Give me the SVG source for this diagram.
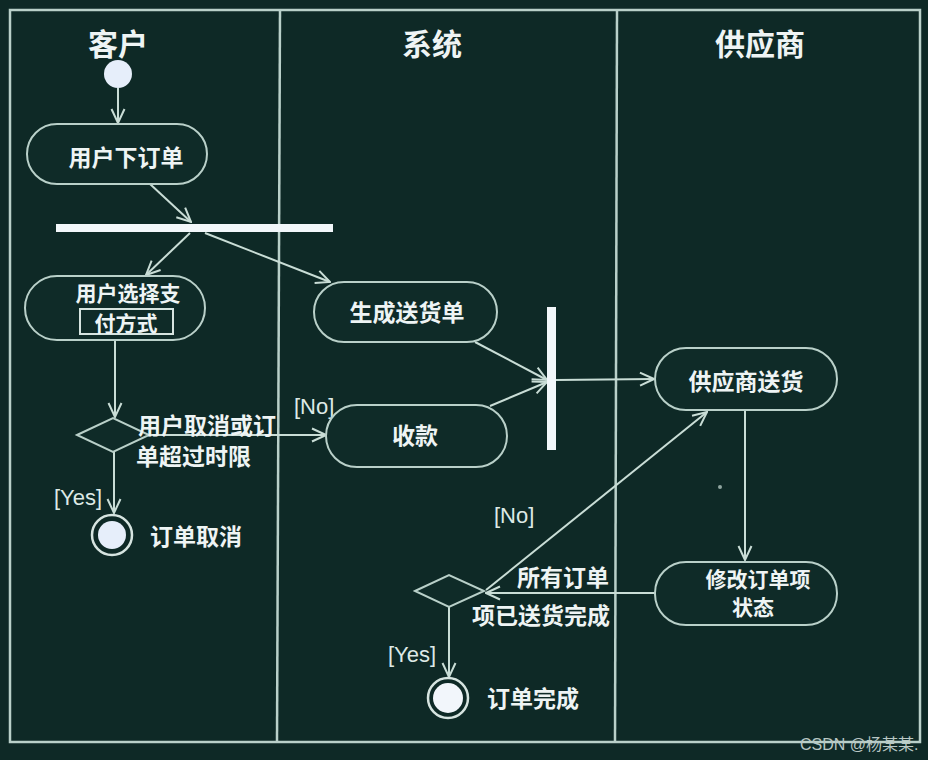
<svg xmlns="http://www.w3.org/2000/svg" width="928" height="760" viewBox="0 0 928 760">
<defs>
<style>
.lane{fill:none;stroke:#b9d0c9;stroke-width:2.5}
.act{fill:#0f2b28;stroke:#b9d0c9;stroke-width:2}
.t{font-family:"Noto Sans CJK SC","Liberation Sans",sans-serif;fill:#eef4f4;font-size:23px;text-anchor:middle;dominant-baseline:central;font-weight:bold}
.s{font-size:21px}
.title{font-size:30px;font-weight:bold}
.lbl{text-anchor:start}
.g{font-family:"Liberation Sans","Noto Sans CJK SC",sans-serif;fill:#dde9e6;font-size:22px;dominant-baseline:central}
.c{fill:none;stroke:#c9ddd6;stroke-width:2;marker-end:url(#arr)}
.bar{fill:#f2f7fa}
</style>
<marker id="arr" viewBox="0 0 16 16" refX="15" refY="8" markerWidth="16" markerHeight="16" markerUnits="userSpaceOnUse" orient="auto">
<path d="M1,1.5 L15,8 L1,14.5" fill="none" stroke="#c9ddd6" stroke-width="2"/>
</marker>
</defs>
<rect x="0" y="0" width="928" height="760" fill="#0e2926"/>
<g id="lanes">
<rect class="lane" x="10" y="10" width="910" height="732"/>
<line class="lane" x1="280" y1="10" x2="277" y2="742"/>
<line class="lane" x1="617" y1="10" x2="615" y2="742"/>
<text class="t title" x="118" y="42">客户</text>
<text class="t title" x="432" y="42">系统</text>
<text class="t title" x="760" y="42">供应商</text>
</g>
<g id="connectors">
<line class="c" x1="118" y1="88" x2="118" y2="123"/>
<line class="c" x1="150" y1="184" x2="191" y2="222"/>
<line class="c" x1="190" y1="233" x2="146" y2="275"/>
<line class="c" x1="205" y1="233" x2="330" y2="282"/>
<line class="c" x1="115" y1="340" x2="115" y2="417"/>
<line class="c" x1="149" y1="435" x2="326" y2="435"/>
<line class="c" x1="114" y1="452" x2="114" y2="513"/>
<line class="c" x1="475" y1="342" x2="547" y2="380"/>
<line class="c" x1="490" y1="406" x2="547" y2="382"/>
<line class="c" x1="556" y1="380" x2="654" y2="379"/>
<line class="c" x1="745" y1="411" x2="745" y2="560"/>
<line class="c" x1="655" y1="593" x2="486" y2="593"/>
<line class="c" x1="486" y1="590" x2="707" y2="412"/>
<line class="c" x1="449" y1="607" x2="449" y2="677"/>
</g>
<g id="start"><circle cx="118" cy="74" r="14" fill="#e6eefa"/></g>
<g id="place-order">
<rect class="act" x="27" y="124" width="180" height="60" rx="30"/>
<text class="t" x="126" y="156">用户下订单</text>
</g>
<g id="fork"><rect class="bar" x="56" y="224" width="277" height="8"/></g>
<g id="choose-payment">
<rect class="act" x="25" y="276" width="180" height="64" rx="32"/>
<text class="t s" x="128" y="292">用户选择支</text>
<rect x="80" y="309" width="93" height="25" fill="none" stroke="#d6e4e0" stroke-width="2"/>
<text class="t s" x="126" y="322">付方式</text>
</g>
<g id="decision-cancel">
<polygon class="act" points="77,435 113,418 149,435 113,452"/>
<text class="t lbl" x="138" y="424">用户取消或订</text>
<text class="t lbl" x="136" y="455">单超过时限</text>
<text class="g" x="294" y="406">[No]</text>
<text class="g" x="54" y="497">[Yes]</text>
</g>
<g id="order-cancelled">
<circle cx="112" cy="535" r="20" fill="none" stroke="#d6e4e0" stroke-width="2.5"/>
<circle cx="112" cy="535" r="14" fill="#e6eefa"/>
<text class="t lbl" x="150" y="535">订单取消</text>
</g>
<g id="gen-delivery">
<rect class="act" x="314" y="282" width="183" height="60" rx="30"/>
<text class="t" x="407" y="311">生成送货单</text>
</g>
<g id="payment">
<rect class="act" x="326" y="405" width="181" height="62" rx="31"/>
<text class="t" x="415" y="434">收款</text>
</g>
<g id="join"><rect class="bar" x="547" y="307" width="9" height="143"/></g>
<g id="supplier-deliver">
<rect class="act" x="655" y="348" width="182" height="62" rx="31"/>
<text class="t" x="746" y="380">供应商送货</text>
</g>
<circle cx="720" cy="487" r="2" fill="#8fa5a0"/>
<g id="update-status">
<rect class="act" x="655" y="562" width="182" height="63" rx="31"/>
<text class="t s" x="758" y="578">修改订单项</text>
<text class="t s" x="753" y="606">状态</text>
</g>
<g id="decision-done">
<polygon class="act" points="415,591 449,575 484,591 449,607"/>
<text class="t lbl" x="517" y="576">所有订单</text>
<text class="t lbl" x="472" y="614">项已送货完成</text>
<text class="g" x="494" y="515">[No]</text>
<text class="g" x="388" y="654">[Yes]</text>
</g>
<g id="order-complete">
<circle cx="448" cy="698" r="20" fill="none" stroke="#d6e4e0" stroke-width="2.5"/>
<circle cx="448" cy="698" r="15" fill="#f2f6fb"/>
<text class="t lbl" x="487" y="697">订单完成</text>
</g>
<text x="800" y="744" font-family="Liberation Sans,'Noto Sans CJK SC',sans-serif" font-size="16" fill="#b9c7c4" dominant-baseline="central">CSDN @杨某某.</text>
</svg>
